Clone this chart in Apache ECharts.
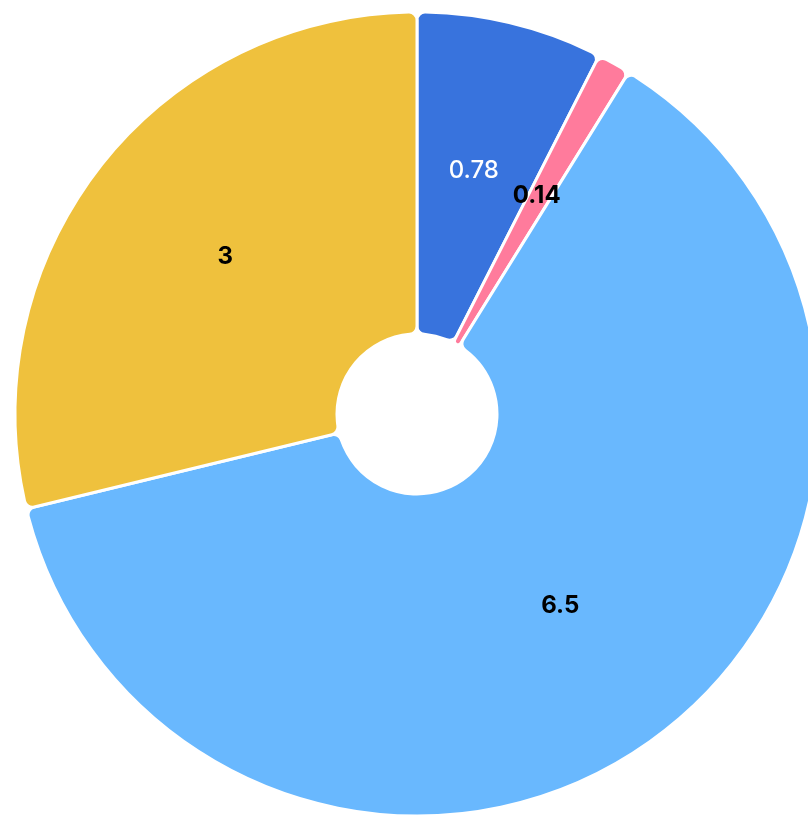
<!DOCTYPE html>
<html><head><meta charset="utf-8">
<script src="https://cdn.jsdelivr.net/npm/echarts@6/dist/echarts.min.js"></script>
<style>html,body{margin:0;padding:0;background:#fff}#c{width:808px;height:818px}</style>
</head><body><div id="c"></div>
<script>
const values = [0.78, 0.14, 6.5, 3];
const colors = ['#3873DD', '#FF7B9C', '#69B8FE', '#EFC13D'];
const labelColors = ['#ffffff', '#000000', '#000000', '#000000'];
const labelWeights = ['500', 'bold', 'bold', 'bold'];
const chart = echarts.init(document.getElementById('c'), null, {renderer: 'canvas'});
chart.setOption({
  animation: false,
  series: [{
    type: 'pie',
    center: [417, 414],
    radius: [80, 402],
    startAngle: 90,
    clockwise: true,
    itemStyle: {borderColor: '#fff', borderWidth: 3, borderRadius: 8},
    label: {position: 'inside', fontSize: 24, fontFamily: 'Inter', offset: [0, -6], formatter: p => String(p.value)},
    labelLine: {show: false},
    data: values.map((v, i) => ({
      value: v,
      itemStyle: {color: colors[i]},
      label: {color: labelColors[i], fontWeight: labelWeights[i]}
    }))
  }]
});
</script></body></html>
